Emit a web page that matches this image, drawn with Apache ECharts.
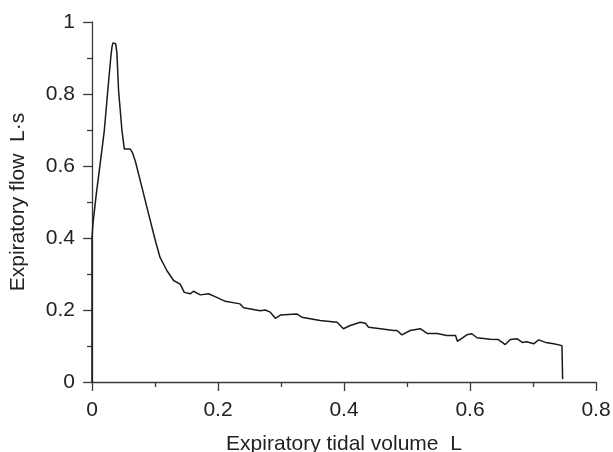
<!DOCTYPE html>
<html>
<head>
<meta charset="utf-8">
<script src="https://cdn.jsdelivr.net/npm/echarts@6/dist/echarts.min.js"></script>
<style>
html,body{margin:0;padding:0;background:#fff;}
#chart{width:613px;height:452px;}
</style>
</head>
<body>
<div id="chart"></div>
<script>
// Expiratory tidal volume (L)
const volume = [0, 0, 0.0015, 0.0068, 0.0159, 0.0195, 0.0264, 0.0300, 0.0317, 0.0333, 0.0355, 0.0375, 0.0395, 0.0422, 0.0476, 0.0513, 0.0608, 0.0640, 0.0687, 0.0794, 0.0898, 0.1005, 0.108, 0.119, 0.1295, 0.140, 0.1465, 0.156, 0.161, 0.172, 0.185, 0.198, 0.2116, 0.235, 0.2407, 0.267, 0.275, 0.283, 0.291, 0.299, 0.325, 0.333, 0.362, 0.389, 0.399, 0.410, 0.426, 0.434, 0.439, 0.458, 0.479, 0.484, 0.492, 0.505, 0.521, 0.532, 0.548, 0.563, 0.577, 0.580, 0.595, 0.603, 0.611, 0.632, 0.645, 0.656, 0.664, 0.675, 0.683, 0.690, 0.701, 0.709, 0.720, 0.733, 0.746, 0.747];
// Expiratory flow (L·s-1)
const flow = [0, 0.40, 0.44, 0.522, 0.647, 0.698, 0.836, 0.905, 0.930, 0.942, 0.944, 0.940, 0.915, 0.809, 0.698, 0.647, 0.647, 0.638, 0.614, 0.540, 0.467, 0.393, 0.346, 0.309, 0.282, 0.272, 0.249, 0.245, 0.252, 0.242, 0.245, 0.235, 0.224, 0.217, 0.206, 0.198, 0.200, 0.194, 0.177, 0.186, 0.189, 0.180, 0.171, 0.166, 0.148, 0.157, 0.166, 0.163, 0.152, 0.148, 0.143, 0.143, 0.131, 0.143, 0.148, 0.135, 0.135, 0.129, 0.129, 0.113, 0.131, 0.134, 0.123, 0.119, 0.118, 0.104, 0.118, 0.120, 0.110, 0.112, 0.106, 0.117, 0.110, 0.106, 0.101, 0.008];
const xTitle = 'Expiratory tidal volume  L';
const yTitle = 'Expiratory flow  L·s';

const pairs = volume.map((v, i) => [v, flow[i]]);
const FONT = 'Liberation Sans, Arial, Helvetica, sans-serif';
const axisColor = '#3a3a3a';

const chart = echarts.init(document.getElementById('chart'), null, {renderer: 'canvas'});
chart.setOption({
  animation: false,
  backgroundColor: '#ffffff',
  grid: {left: 92, right: 17, top: 22, bottom: 70, containLabel: false, outerBoundsMode: 'none'},
  xAxis: {
    type: 'value', min: 0, max: 0.8, interval: 0.2,
    name: xTitle, nameLocation: 'middle', nameGap: 52,
    nameTextStyle: {fontFamily: FONT, fontSize: 21, color: '#222'},
    axisLine: {show: true, lineStyle: {color: axisColor, width: 1.3}},
    axisTick: {show: true, inside: false, length: 9, lineStyle: {color: axisColor, width: 1.3}},
    minorTick: {show: true, splitNumber: 2, length: 5, lineStyle: {color: axisColor, width: 1.3}},
    axisLabel: {fontFamily: FONT, fontSize: 21, color: '#222', margin: 18,
      formatter: v => String(+v.toFixed(1))},
    splitLine: {show: false}
  },
  yAxis: {
    type: 'value', min: 0, max: 1, interval: 0.2,
    name: yTitle, nameLocation: 'middle', nameGap: 63, nameRotate: 90,
    nameTextStyle: {fontFamily: FONT, fontSize: 21, color: '#222'},
    axisLine: {show: true, lineStyle: {color: axisColor, width: 1.3}},
    axisTick: {show: true, inside: false, length: 9, lineStyle: {color: axisColor, width: 1.3}},
    minorTick: {show: true, splitNumber: 2, length: 5, lineStyle: {color: axisColor, width: 1.3}},
    axisLabel: {fontFamily: FONT, fontSize: 21, color: '#222', margin: 17,
      formatter: v => String(+v.toFixed(1))},
    splitLine: {show: false}
  },
  series: [{
    type: 'line',
    data: pairs,
    showSymbol: false,
    symbol: 'none',
    lineStyle: {color: '#1a1a1a', width: 1.5},
    clip: false
  }]
});
</script>
</body>
</html>
